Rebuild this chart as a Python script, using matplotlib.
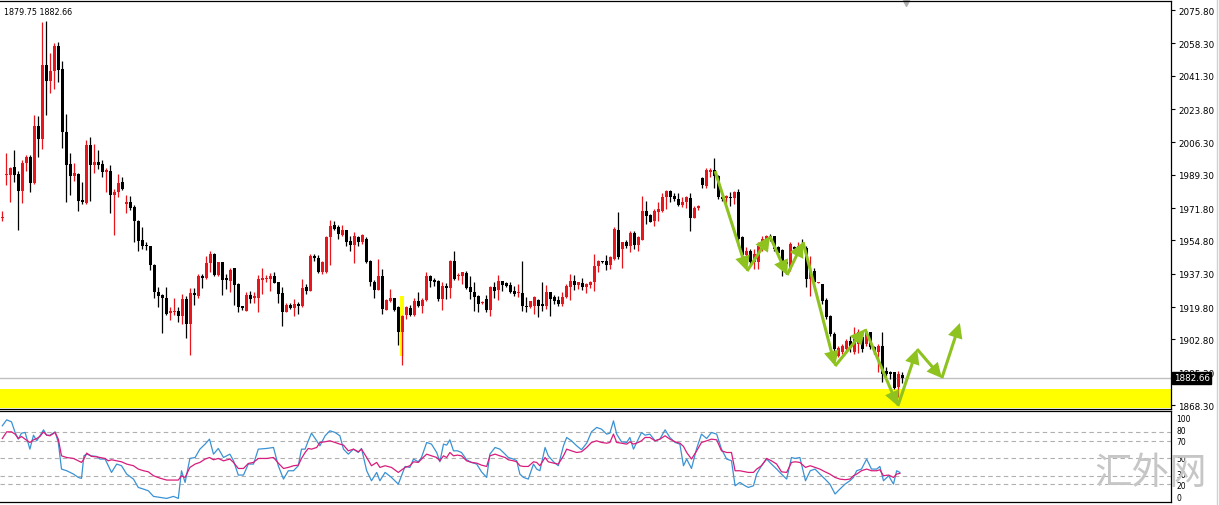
import numpy as np
import matplotlib
matplotlib.use("Agg")
import matplotlib.pyplot as plt
from matplotlib.lines import Line2D

# ---- daily candles (bar 0 = left edge) ----
opens = [1966.5, 1989.0, 1989.3, 1993.1, 1989.6, 1980.9, 1995.2, 1998.7, 1985.1, 2014.8,
         2008.0, 2046.9, 2038.7, 2043.6, 2057.0, 2044.8, 2011.5, 1994.9, 1988.8, 1989.6,
         1975.9, 1974.4, 2004.9, 1994.5, 1995.9, 1994.9, 1990.5, 1991.0, 1978.8, 1980.0,
         1985.6, 1973.9, 1975.1, 1972.5, 1964.8, 1955.0, 1952.5, 1951.6, 1941.8, 1927.8,
         1926.2, 1924.3, 1916.6, 1917.0, 1917.8, 1915.2, 1924.0, 1910.8, 1927.1, 1925.4,
         1936.2, 1934.8, 1942.7, 1947.6, 1936.7, 1943.2, 1934.8, 1933.3, 1940.1, 1931.9,
         1920.1, 1917.8, 1926.1, 1924.3, 1924.3, 1934.0, 1934.5, 1934.5, 1936.2, 1932.7,
         1927.0, 1917.3, 1920.8, 1919.1, 1921.3, 1920.1, 1930.1, 1928.3, 1946.7, 1945.3,
         1938.0, 1938.0, 1956.4, 1962.8, 1961.6, 1957.6, 1960.2, 1954.6, 1952.3, 1956.4,
         1953.7, 1955.8, 1944.1, 1933.1, 1928.9, 1935.9, 1918.4, 1923.1, 1924.3, 1919.6,
         1906.8, 1915.4, 1919.1, 1915.6, 1923.1, 1920.1, 1923.6, 1936.2, 1934.1, 1933.6,
         1924.0, 1930.6, 1929.6, 1944.1, 1935.9, 1935.9, 1937.7, 1930.1, 1927.5, 1925.8,
         1922.0, 1924.0, 1918.4, 1930.1, 1928.9, 1933.3, 1932.2, 1931.4, 1928.4, 1927.2,
         1927.2, 1920.5, 1919.6, 1920.5, 1923.5, 1921.4, 1920.2, 1927.5, 1924.9, 1923.7,
         1921.4, 1925.2, 1930.1, 1933.6, 1931.4, 1932.4, 1930.1, 1931.4, 1932.8, 1941.2,
         1944.0, 1944.1, 1941.9, 1945.0, 1960.3, 1950.3, 1953.8, 1952.0, 1958.7, 1952.4,
         1955.2, 1970.4, 1968.1, 1965.2, 1969.5, 1970.4, 1977.4, 1980.9, 1977.9, 1976.5,
         1973.4, 1974.8, 1976.9, 1966.4, 1971.6, 1987.4, 1983.2, 1990.9, 1992.0, 1988.8,
         1977.4, 1976.9, 1977.8, 1976.9, 1980.0, 1956.4, 1947.1, 1949.4, 1943.3, 1943.3,
         1950.3, 1954.7, 1956.9, 1956.9, 1951.1, 1949.9, 1943.6, 1939.8, 1951.2, 1950.6,
         1952.9, 1950.6, 1934.5, 1938.9, 1932.4, 1931.9, 1923.7, 1915.3, 1905.6, 1894.2,
         1896.0, 1897.7, 1902.1, 1896.0, 1900.4, 1903.9, 1900.4, 1906.5, 1898.6, 1896.0,
         1899.5, 1886.4, 1885.8, 1885.5, 1877.6, 1884.1]
highs = [1970.0, 2000.7, 1993.3, 2002.1, 1991.0, 1996.8, 1999.6, 1999.6, 2020.6, 2020.1,
         2069.6, 2070.2, 2053.2, 2058.3, 2059.1, 2048.8, 2021.1, 2000.5, 1995.4, 1990.2,
         1985.3, 2007.7, 2009.2, 2005.4, 2002.4, 1997.0, 1992.6, 1994.4, 1981.7, 1989.6,
         1987.9, 1978.6, 1978.2, 1973.3, 1965.6, 1961.6, 1953.7, 1952.0, 1942.2, 1930.1,
         1926.6, 1930.1, 1919.6, 1924.3, 1919.6, 1926.6, 1925.7, 1929.6, 1929.6, 1937.1,
         1937.1, 1946.7, 1949.4, 1948.0, 1943.7, 1943.7, 1937.1, 1940.1, 1940.5, 1932.2,
         1920.5, 1927.8, 1928.3, 1927.8, 1936.6, 1940.1, 1936.6, 1937.6, 1938.0, 1933.0,
         1930.1, 1921.9, 1921.9, 1924.0, 1922.2, 1934.5, 1931.9, 1947.6, 1947.6, 1947.1,
         1943.9, 1957.0, 1965.5, 1965.1, 1962.8, 1962.8, 1960.5, 1957.2, 1959.0, 1956.9,
         1958.1, 1956.4, 1944.6, 1934.1, 1945.0, 1939.7, 1924.0, 1929.2, 1924.8, 1920.5,
         1915.5, 1920.5, 1920.8, 1924.8, 1927.5, 1924.3, 1938.0, 1936.6, 1934.8, 1933.9,
         1933.1, 1932.4, 1944.6, 1949.4, 1937.7, 1938.4, 1938.9, 1936.3, 1933.1, 1926.1,
         1923.1, 1926.1, 1931.0, 1932.8, 1936.6, 1933.6, 1933.1, 1932.8, 1930.7, 1931.9,
         1944.1, 1924.9, 1923.1, 1925.4, 1924.0, 1932.8, 1931.4, 1927.9, 1926.1, 1925.8,
         1927.9, 1931.9, 1937.1, 1936.6, 1933.1, 1934.9, 1932.4, 1933.6, 1947.7, 1944.7,
         1944.1, 1947.1, 1946.8, 1961.7, 1969.9, 1954.1, 1955.2, 1960.0, 1960.0, 1957.3,
         1978.3, 1975.7, 1968.7, 1971.3, 1974.8, 1979.7, 1981.4, 1981.4, 1979.7, 1979.7,
         1977.4, 1977.9, 1979.7, 1973.0, 1973.4, 1987.9, 1992.6, 1992.6, 1997.9, 1989.1,
         1978.0, 1978.6, 1980.4, 1980.9, 1981.8, 1957.3, 1951.1, 1950.3, 1950.3, 1953.8,
         1956.9, 1957.6, 1958.1, 1957.3, 1952.0, 1950.3, 1945.0, 1953.8, 1952.0, 1953.8,
         1955.5, 1952.0, 1946.4, 1940.1, 1933.0, 1931.9, 1924.4, 1915.6, 1906.5, 1899.5,
         1900.4, 1903.0, 1904.7, 1909.1, 1908.2, 1906.5, 1907.4, 1906.8, 1899.5, 1900.4,
         1906.5, 1888.1, 1886.4, 1885.8, 1886.4, 1885.5]
lows = [1964.8, 1984.0, 1975.1, 1985.3, 1960.4, 1974.2, 1991.4, 1980.3, 1984.5, 1998.7,
        2002.8, 2020.6, 2032.0, 2034.3, 2037.8, 2003.6, 1975.1, 1978.8, 1985.8, 1970.0,
        1973.9, 1973.9, 1975.3, 1990.0, 1992.3, 1987.9, 1980.3, 1969.0, 1957.8, 1977.7,
        1981.4, 1969.1, 1970.9, 1954.1, 1949.0, 1950.2, 1949.9, 1939.2, 1924.3, 1919.6,
        1906.4, 1915.6, 1913.1, 1915.7, 1911.7, 1910.8, 1903.3, 1894.5, 1920.8, 1924.8,
        1929.6, 1934.5, 1938.0, 1936.2, 1936.2, 1926.1, 1929.2, 1927.8, 1920.8, 1917.3,
        1918.2, 1917.5, 1921.9, 1921.9, 1917.3, 1926.6, 1933.1, 1928.3, 1932.2, 1921.9,
        1910.0, 1917.0, 1918.7, 1914.9, 1916.1, 1919.8, 1926.6, 1928.0, 1944.1, 1937.6,
        1937.1, 1937.6, 1941.8, 1960.4, 1955.8, 1957.2, 1952.0, 1949.4, 1942.9, 1951.6,
        1952.9, 1942.9, 1931.0, 1924.8, 1928.6, 1916.1, 1918.1, 1922.2, 1917.8, 1899.8,
        1889.3, 1913.5, 1915.2, 1915.2, 1919.8, 1916.6, 1923.1, 1930.1, 1930.6, 1923.1,
        1918.4, 1924.0, 1924.3, 1934.2, 1934.2, 1931.9, 1929.3, 1924.0, 1917.9, 1917.4,
        1921.6, 1917.4, 1914.9, 1924.4, 1923.7, 1928.4, 1930.1, 1927.2, 1925.8, 1924.9,
        1917.9, 1917.4, 1919.1, 1916.1, 1914.4, 1917.9, 1918.8, 1914.9, 1921.4, 1920.2,
        1920.5, 1924.4, 1923.7, 1928.9, 1929.3, 1928.9, 1927.2, 1929.6, 1928.4, 1938.4,
        1942.9, 1939.4, 1939.8, 1944.7, 1945.0, 1940.1, 1950.6, 1948.9, 1950.3, 1949.1,
        1954.9, 1963.4, 1964.3, 1962.2, 1965.2, 1969.9, 1971.3, 1975.1, 1975.7, 1972.7,
        1972.2, 1971.6, 1959.9, 1966.4, 1970.9, 1982.1, 1982.1, 1987.9, 1982.1, 1976.5,
        1975.5, 1974.4, 1973.0, 1973.9, 1952.0, 1946.8, 1945.0, 1942.4, 1939.8, 1939.8,
        1949.4, 1953.8, 1954.7, 1949.4, 1947.1, 1935.9, 1937.0, 1938.9, 1949.4, 1950.3,
        1950.3, 1930.1, 1925.8, 1932.4, 1932.2, 1921.4, 1913.5, 1904.7, 1894.2, 1893.4,
        1895.1, 1896.0, 1896.0, 1895.1, 1895.6, 1896.0, 1899.5, 1897.7, 1895.1, 1885.5,
        1880.2, 1883.7, 1882.0, 1876.7, 1872.4, 1879.75]
closes = [1967.0, 1989.5, 1992.8, 1989.3, 1980.9, 1995.4, 1998.7, 1985.1, 2014.8, 2008.0,
          2046.9, 2038.7, 2043.7, 2057.0, 2044.4, 2011.5, 1994.5, 1988.8, 1990.0, 1975.6,
          1975.1, 2004.9, 1994.5, 1995.9, 1994.5, 1990.5, 1991.7, 1978.8, 1980.3, 1984.9,
          1981.7, 1975.1, 1971.8, 1964.8, 1954.3, 1951.6, 1951.6, 1941.8, 1927.8, 1925.7,
          1924.3, 1916.1, 1917.5, 1917.8, 1915.2, 1924.0, 1910.8, 1927.1, 1926.2, 1936.2,
          1934.8, 1942.9, 1947.6, 1936.7, 1943.2, 1934.1, 1934.0, 1939.4, 1931.3, 1919.6,
          1919.1, 1926.1, 1924.0, 1925.4, 1934.5, 1934.8, 1935.3, 1936.2, 1932.4, 1926.6,
          1917.3, 1920.8, 1919.1, 1921.3, 1920.5, 1929.6, 1928.3, 1946.7, 1945.3, 1938.0,
          1943.6, 1956.7, 1962.5, 1960.7, 1958.1, 1960.2, 1954.1, 1952.3, 1957.2, 1953.7,
          1957.6, 1943.6, 1932.7, 1928.9, 1935.9, 1918.7, 1923.6, 1924.3, 1918.4, 1906.8,
          1915.2, 1919.6, 1915.6, 1923.1, 1920.1, 1923.6, 1936.2, 1933.6, 1933.1, 1924.0,
          1930.6, 1929.6, 1944.1, 1934.5, 1936.6, 1938.0, 1929.6, 1927.5, 1925.2, 1921.4,
          1922.3, 1918.4, 1930.1, 1928.4, 1933.6, 1931.4, 1930.7, 1927.9, 1926.6, 1927.5,
          1920.2, 1919.6, 1923.1, 1924.9, 1920.5, 1920.5, 1927.5, 1924.0, 1923.1, 1921.4,
          1925.2, 1931.0, 1933.6, 1931.4, 1932.8, 1930.1, 1931.9, 1933.1, 1941.5, 1944.1,
          1943.3, 1941.9, 1945.9, 1960.8, 1945.9, 1953.8, 1951.7, 1958.7, 1952.4, 1956.4,
          1970.4, 1967.8, 1964.6, 1970.4, 1971.3, 1977.4, 1980.9, 1977.4, 1976.5, 1973.4,
          1975.1, 1977.4, 1966.4, 1971.6, 1972.7, 1983.9, 1992.0, 1992.0, 1988.8, 1977.4,
          1976.5, 1978.3, 1977.2, 1980.0, 1955.5, 1947.1, 1949.4, 1943.3, 1947.6, 1952.0,
          1955.5, 1956.9, 1955.5, 1950.3, 1948.2, 1943.3, 1942.4, 1952.9, 1950.3, 1951.6,
          1950.6, 1934.5, 1938.9, 1932.8, 1932.8, 1923.1, 1914.4, 1905.6, 1897.7, 1898.1,
          1899.5, 1902.1, 1898.1, 1903.9, 1906.5, 1897.7, 1906.5, 1898.6, 1896.0, 1899.5,
          1884.6, 1884.6, 1884.6, 1877.1, 1884.6, 1882.66]

price_ticks = [2075.80, 2058.30, 2041.30, 2023.80, 2006.30, 1989.30, 1971.80,
               1954.80, 1937.30, 1919.80, 1902.80, 1885.30, 1868.30]

# support zone and highlighted bar
zone_low, zone_high = 1867.0, 1876.7
mark_bar, mark_low, mark_high = 100, 1894.2, 1925.7

# projected zig-zag path (bar, price)
path_bars = [178.2, 186.2, 191.9, 196.2, 200.2, 208.2, 215.7, 223.9, 228.7, 234.9, 239.4]
path_prices = [1991.2, 1938.7, 1957.1, 1936.6, 1953.9, 1888.8, 1908.2, 1867.8, 1897.7, 1882.5, 1911.4]

# oscillator (two lines)
osc_bar = [0, 1.1, 2.3, 3.2, 4.0, 4.8, 5.7, 6.9, 7.8, 8.6,
           9.4, 10.3, 11.1, 11.9, 13.2, 14.0, 14.8, 16.1, 17.8, 19.0,
           19.8, 20.4, 21.1, 22.3, 23.6, 24.4, 25.7, 26.5, 27.3, 28.6,
           29.8, 31.1, 32.8, 34.0, 35.3, 36.5, 37.8, 39.4, 41.1, 42.8,
           44.0, 44.8, 45.7, 46.9, 48.2, 49.4, 50.7, 51.8, 52.8, 54.0,
           55.3, 56.9, 57.8, 59.0, 60.3, 61.5, 62.8, 64.0, 66.1, 67.8,
           69.0, 70.3, 71.5, 72.8, 74.0, 74.8, 75.7, 76.5, 77.3, 78.6,
           79.4, 80.7, 81.9, 83.2, 84.4, 85.3, 86.5, 87.8, 89.0, 89.8,
           91.1, 92.3, 93.6, 94.4, 95.7, 97.3, 99.0,
           100.7, 101.9, 102.8, 104.0, 104.8, 106.1, 107.3, 108.6, 109.4, 110.3,
           111.1, 111.9, 112.8, 113.8, 114.8, 116.1, 117.3, 118.6, 119.8, 121.1,
           121.9, 123.2, 124.4, 125.7, 126.5, 127.8, 128.6, 129.4, 130.3, 131.5,
           132.8, 133.6, 134.4, 135.7, 136.5, 137.8, 139.0, 140.3, 141.1, 142.3,
           143.6, 144.8, 146.1, 147.3, 148.6, 149.8, 151.1, 151.9, 152.8, 153.6,
           154.8, 156.1, 156.9, 157.8, 159.0, 159.8, 160.7, 161.9, 163.2, 164.4,
           165.7, 166.9, 168.2, 169.4, 170.3, 171.1, 172.3, 173.6, 174.8, 176.1,
           177.3, 178.6, 179.8, 181.1, 182.3, 183.2, 184.4, 185.7, 186.5, 187.8,
           188.6, 189.8, 191.1, 192.3, 193.6, 194.8, 196.1, 197.3, 198.2, 199.4,
           200.8, 202.0, 203.2, 204.4, 205.7, 206.9, 208.2, 209.4, 210.7, 211.9,
           212.8, 213.6, 214.8, 216.1, 217.3, 218.6, 219.4, 220.3, 221.6, 222.8,
           223.6, 224.4]
osc_blue = [86.8, 93.6, 91.3, 79.2, 71.6, 78.4, 79.2, 60.2, 76.1, 69.7,
            75.4, 82.2, 76.1, 76.1, 79.9, 67.8, 37.5, 35.6, 31.8, 28.0,
            26.9, 52.6, 54.5, 52.6, 51.9, 48.9, 48.9, 41.3, 33.7, 43.2,
            41.3, 31.8, 26.1, 16.6, 14.7, 12.8, 6.4, 5.3, 4.1, 6.4,
            4.1, 35.6, 22.3, 49.6, 50.7, 60.2, 65.9, 71.6, 54.5, 61.0,
            50.7, 54.5, 47.0, 30.7, 30.7, 43.2, 43.2, 60.2, 61.0, 62.1,
            41.3, 26.1, 35.6, 35.6, 41.3, 60.2, 60.2, 69.7, 78.4, 69.7,
            64.0, 75.4, 81.1, 79.2, 75.4, 60.2, 54.5, 60.2, 56.4, 61.0,
            35.6, 24.2, 33.7, 24.2, 33.7, 28.0, 20.4,
            40.5, 39.4, 48.9, 45.8, 50.7, 67.8, 65.9, 56.4, 45.8, 65.9,
            64.8, 70.8, 58.3, 58.3, 56.4, 48.1, 45.1, 43.2, 34.4, 28.0,
            54.5, 62.1, 60.2, 54.5, 50.7, 48.9, 47.0, 31.8, 28.0, 26.1,
            43.2, 37.5, 35.6, 62.1, 52.6, 45.8, 41.3, 64.0, 73.5, 69.7,
            64.0, 59.5, 67.0, 79.9, 84.9, 83.0, 77.3, 78.4, 92.4, 77.3,
            68.6, 67.8, 73.5, 60.2, 71.6, 79.2, 76.1, 77.3, 69.7, 71.6,
            82.2, 73.5, 67.8, 65.9, 41.3, 48.9, 38.2, 61.0, 77.3, 72.3,
            79.2, 77.3, 60.2, 48.9, 47.0, 18.5, 22.3, 18.5, 16.6, 18.5,
            31.8, 41.3, 48.9, 43.2, 37.5, 31.8, 26.1, 50.7, 49.6, 50.7,
            24.2, 35.6, 37.5, 31.8, 26.1, 20.4, 9.1, 14.7, 20.4, 24.2,
            28.0, 35.6, 37.5, 48.9, 37.5, 37.5, 40.5, 24.2, 29.9, 20.4,
            35.6, 33.7]
osc_mag = [72.3, 79.9, 79.9, 77.3, 72.3, 74.6, 71.6, 67.8, 70.8, 72.3,
           74.6, 79.9, 76.1, 75.4, 79.2, 71.6, 52.6, 50.7, 49.6, 46.9,
           45.1, 48.9, 55.7, 51.9, 51.5, 50.7, 49.6, 46.9, 48.1, 46.9,
           45.8, 43.2, 41.3, 37.5, 35.6, 34.4, 29.9, 27.2, 25.0, 25.0,
           25.0, 29.9, 28.0, 39.4, 43.2, 45.1, 48.9, 50.7, 48.1, 49.6,
           46.9, 48.9, 45.1, 38.2, 38.2, 43.9, 45.1, 49.6, 49.6, 50.7,
           44.3, 38.2, 39.4, 41.3, 42.0, 49.6, 56.4, 61.0, 60.2, 62.1,
           67.8, 68.6, 69.7, 67.8, 65.9, 64.8, 58.3, 60.2, 57.2, 60.2,
           50.7, 41.3, 45.1, 39.4, 41.3, 39.4, 33.7,
           39.4, 41.3, 45.8, 45.1, 48.9, 54.5, 52.6, 50.7, 46.9, 52.6,
           50.7, 56.4, 52.6, 53.4, 52.6, 46.9, 45.1, 44.3, 42.0, 40.5,
           52.6, 54.5, 52.6, 50.7, 48.1, 46.9, 45.8, 41.3, 40.5, 40.5,
           45.8, 45.1, 41.3, 50.7, 45.8, 44.3, 43.2, 52.6, 60.2, 58.3,
           56.4, 57.2, 62.1, 67.8, 69.7, 67.8, 67.0, 67.8, 77.3, 67.8,
           67.0, 65.9, 68.6, 65.9, 67.8, 69.7, 73.5, 73.5, 69.7, 71.6,
           75.4, 71.6, 68.6, 67.0, 63.3, 56.4, 48.9, 58.3, 67.8, 69.7,
           71.6, 70.8, 58.3, 56.4, 56.4, 35.6, 35.6, 34.4, 33.7, 33.7,
           37.5, 41.3, 49.6, 46.9, 43.2, 34.4, 33.7, 45.1, 45.8, 45.1,
           39.4, 41.3, 39.4, 37.5, 34.4, 31.8, 28.0, 26.1, 25.4, 26.1,
           29.9, 31.8, 35.6, 37.5, 35.6, 35.6, 36.7, 29.9, 30.7, 28.0,
           31.8, 32.6]
osc_levels = [80, 70, 50, 30, 20]
osc_labels = [100, 80, 70, 50, 30, 20, 0]
# where each level label sits (MT4 nudges crowded labels apart)
osc_label_pos = [100, 81.5, 68.5, 50, 31.5, 18.5, 0]

plt.rcParams['font.family'] = ['DejaVu Sans']

UP = '#e8161c'
DN = '#000000'
GREEN = '#8dc21f'

fig = plt.figure(figsize=(12.19, 5.06), dpi=100)
ax = fig.add_axes([0.0, 0.1907, 0.9610, 0.8059])
ax2 = fig.add_axes([0.0, 0.0059, 0.9610, 0.1805])

o = np.array(opens); h = np.array(highs); l = np.array(lows); c = np.array(closes)
x = np.arange(len(c))
col = np.where(c >= o, UP, DN)

# support zone + last price line
ax.axhspan(zone_low, zone_high, color='#ffff00', zorder=0, lw=0)
ax.axhline(c[-1], color='#c0c0c0', lw=1.0, zorder=1)
ax.bar(mark_bar, mark_high - mark_low, bottom=mark_low, width=1.0,
       color='#ffff00', zorder=1, lw=0)

# candles
ax.vlines(x, l, h, colors=col, lw=0.9, zorder=3)
body = np.maximum(np.abs(c - o), 0.6)
ax.bar(x, body, bottom=np.minimum(o, c), width=0.72, color=col, lw=0, zorder=4)

# projected path arrows
for k in range(len(path_bars) - 1):
    ax.annotate('', xy=(path_bars[k + 1], path_prices[k + 1]),
                xytext=(path_bars[k], path_prices[k]),
                arrowprops=dict(arrowstyle='-|>,head_length=0.8,head_width=0.4',
                                color=GREEN, lw=2.2, mutation_scale=9,
                                joinstyle='miter', capstyle='butt',
                                shrinkA=0, shrinkB=0), zorder=6)

ax.set_xlim(-0.575, 292.3)
ax.set_ylim(1866.5, 2080.7)
ax.yaxis.tick_right()
ax.set_yticks(price_ticks)
ax.set_yticklabels(['%.2f' % v for v in price_ticks])
ax.tick_params(axis='y', direction='out', length=3, width=0.8, labelsize=6.3, pad=2,
               colors='black')
ax.set_xticks([])
ax.spines['left'].set_visible(False)
for s in ['top', 'right', 'bottom']:
    ax.spines[s].set_linewidth(0.9)

# header values
ax.text(0.003, 0.985, '%.2f %.2f' % (lows[-1], closes[-1]), transform=ax.transAxes,
        fontsize=5.8, va='top', ha='left')
# last price tag
ax.text(1.0018, c[-1], '%.2f' % closes[-1], transform=ax.get_yaxis_transform(),
        fontsize=6.3, color='white', va='center', ha='left', zorder=10,
        bbox=dict(boxstyle='square,pad=0.18', fc='black', ec='black'))
# chart-shift marker
ax.plot([len(c)], [0.995], marker='v', ms=5, color='#b0b0b0',
        transform=ax.get_xaxis_transform(), clip_on=False)

# oscillator pane
for lv in osc_levels:
    ax2.axhline(lv, color='#b0b0b0', lw=0.8, ls=(0, (4, 3)), zorder=0)
ax2.plot(osc_bar, osc_blue, color='#3a92d4', lw=0.9, zorder=2)
ax2.plot(osc_bar, osc_mag, color='#d81c7c', lw=0.9, zorder=3)
ax2.set_xlim(-0.575, 292.3)
ax2.set_ylim(0, 104)
ax2.set_xticks([]); ax2.set_yticks([])
ax2.spines['left'].set_visible(False)
for s in ['top', 'right', 'bottom']:
    ax2.spines[s].set_linewidth(0.9)
tr = ax2.get_yaxis_transform()
for v, pos in zip(osc_labels, osc_label_pos):
    va = 'top' if v == 100 else ('bottom' if v == 0 else 'center')
    ax2.text(1.004, pos, str(v), transform=tr, fontsize=5.5, va=va, ha='left')

# watermark
fig.text(0.944, 0.064, '汇外网', family=['Noto Sans CJK SC', 'DejaVu Sans'],
         fontsize=27, color='#c6c6c6', ha='center', va='center', zorder=20)
fig.add_artist(Line2D([0.998, 0.998], [0, 1], transform=fig.transFigure,
                      color='#d0d0d0', lw=1))

fig.savefig('out.png', dpi=100)
